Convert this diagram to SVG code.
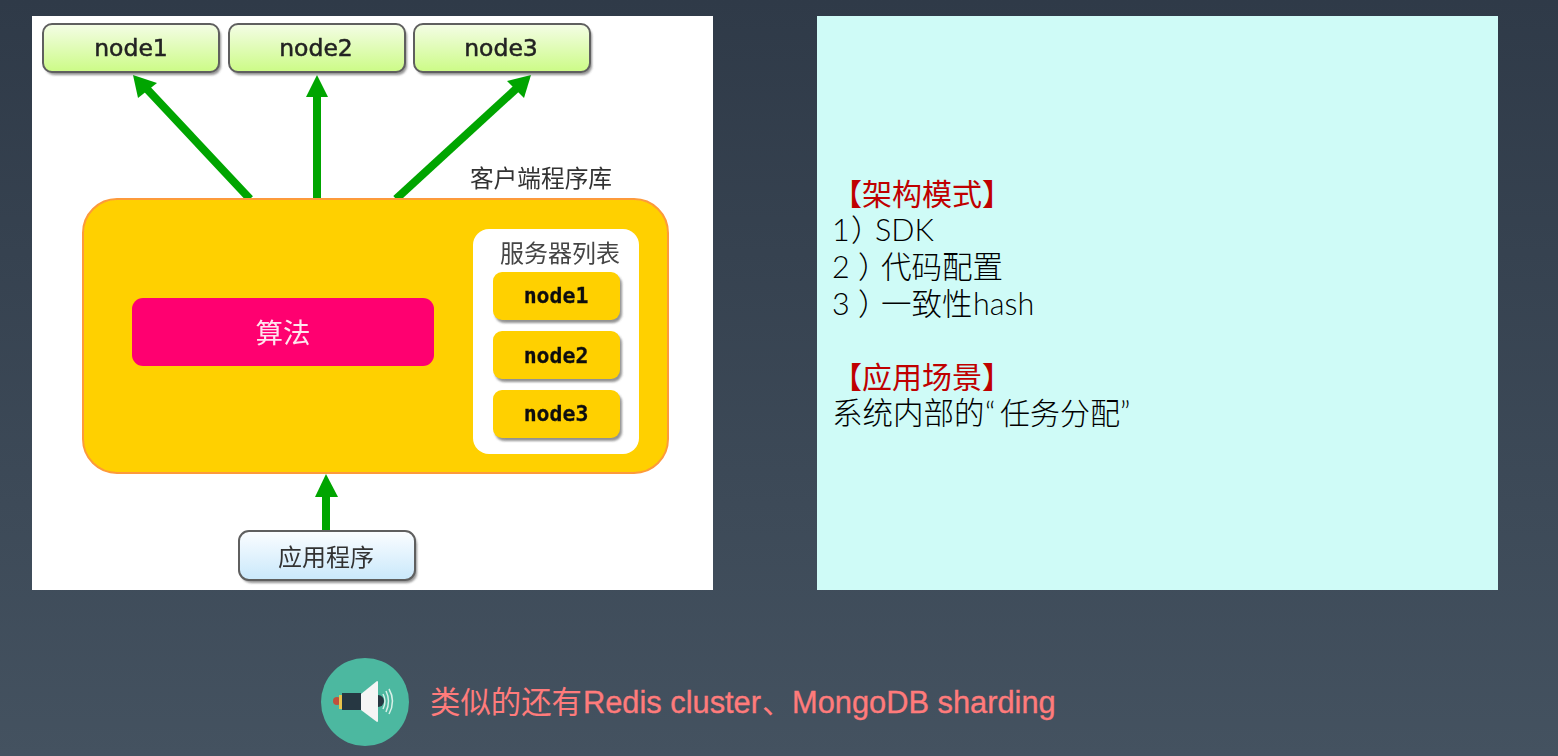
<svg xmlns="http://www.w3.org/2000/svg" width="1558" height="756" viewBox="0 0 1558 756">
<style>
.cjk{font-family:"Noto Sans CJK SC","Liberation Sans",sans-serif}
.lat{font-family:"DejaVu Sans",sans-serif;font-size:23.5px;fill:#222;stroke:#222;stroke-width:.5;text-anchor:middle}
.mono{font-family:"DejaVu Sans Mono",monospace;font-size:21.5px;font-weight:bold;fill:#111;stroke:#111;stroke-width:.3;text-anchor:middle}
.top{fill:url(#gG);stroke:#5f5f5f;stroke-width:2}
.sh{fill:#666;opacity:.7;filter:url(#shb)}
.mini{fill:#ffd000}
.gl{stroke:#00a500;stroke-width:8;fill:none}
.ga{fill:#00a500}
.side{font-size:30.5px;fill:#000;font-weight:300;font-family:Lato,"Noto Sans CJK SC",sans-serif}
.pal{font-feature-settings:"palt"}
.red{font-size:30px;fill:#c00000;font-family:Lato,"Noto Sans CJK SC",sans-serif}
.big{font-family:"Liberation Sans","Noto Sans CJK SC",sans-serif;font-size:30.8px;stroke:#ff7b7b;stroke-width:.35}
</style>
<defs>
<linearGradient id="bg" x1="0" y1="0" x2="0" y2="1"><stop offset="0" stop-color="#2f3a48"/><stop offset="1" stop-color="#445260"/></linearGradient>
<linearGradient id="gG" x1="0" y1="0" x2="0" y2="1"><stop offset="0" stop-color="#f4fde6"/><stop offset="1" stop-color="#ccfb86"/></linearGradient>
<linearGradient id="gB" x1="0" y1="0" x2="0" y2="1"><stop offset="0" stop-color="#fbfdff"/><stop offset="1" stop-color="#c9e8fb"/></linearGradient>
<filter id="soft" x="-5%" y="-5%" width="110%" height="110%"><feGaussianBlur stdDeviation="0.7"/></filter>
<filter id="shb" x="-5%" y="-10%" width="110%" height="120%"><feGaussianBlur stdDeviation="0.8"/></filter>
</defs>
<rect width="1558" height="756" fill="url(#bg)"/>
<rect id="left-panel" x="32" y="16" width="681" height="574" fill="#fff"/>
<rect id="right-panel" x="817" y="16" width="681" height="574" fill="#cffbf7"/>

<g id="connectors" filter="url(#soft)">
<path class="gl" d="M250 199L146 88"/><path class="ga" d="M133 75L157 83L138 98Z"/>
<path class="gl" d="M317 199V94"/><path class="ga" d="M317 75L328 97H306Z"/>
<path class="gl" d="M396 199L517 88"/><path class="ga" d="M531 75L524 98L507 81Z"/>
<path class="gl" d="M326 531V494"/><path class="ga" d="M326 474L338 497H315Z"/>
</g>

<g id="node-top1" filter="url(#soft)"><rect class="sh" x="45" y="27" width="176" height="48" rx="9"/><rect class="top" x="43" y="24" width="176" height="48" rx="9"/><text class="lat" x="131" y="56">node1</text></g>
<g id="node-top2" filter="url(#soft)"><rect class="sh" x="231" y="27" width="176" height="48" rx="9"/><rect class="top" x="229" y="24" width="176" height="48" rx="9"/><text class="lat" x="316" y="56">node2</text></g>
<g id="node-top3" filter="url(#soft)"><rect class="sh" x="416" y="27" width="176" height="48" rx="9"/><rect class="top" x="414" y="24" width="176" height="48" rx="9"/><text class="lat" x="501" y="56">node3</text></g>

<g id="client-lib" filter="url(#soft)">
<rect x="83" y="199" width="585" height="274" rx="34" fill="#ffd000" stroke="#fd9a3a" stroke-width="2"/>
<text class="cjk" x="541" y="187" font-size="23.7" fill="#333" text-anchor="middle">客户端程序库</text>
</g>
<g id="algo" filter="url(#soft)"><rect x="132" y="298" width="302" height="68" rx="11" fill="#ff0070"/><text class="cjk" x="283" y="343" font-size="27.5" fill="#ffe6ee" text-anchor="middle">算法</text></g>
<g id="server-list" filter="url(#soft)"><rect x="473" y="229" width="166" height="225" rx="16" fill="#fff"/><text class="cjk" x="560" y="262" font-size="24" fill="#444" text-anchor="middle">服务器列表</text></g>
<g id="mini1" filter="url(#soft)"><rect class="sh" x="495" y="275" width="127" height="48" rx="9"/><rect class="mini" x="493" y="272" width="127" height="48" rx="9"/><text class="mono" x="556" y="303">node1</text></g>
<g id="mini2" filter="url(#soft)"><rect class="sh" x="495" y="334" width="127" height="48" rx="9"/><rect class="mini" x="493" y="331" width="127" height="48" rx="9"/><text class="mono" x="556" y="363">node2</text></g>
<g id="mini3" filter="url(#soft)"><rect class="sh" x="495" y="393" width="127" height="48" rx="9"/><rect class="mini" x="493" y="390" width="127" height="48" rx="9"/><text class="mono" x="556" y="421">node3</text></g>

<g id="app" filter="url(#soft)"><rect class="sh" x="241" y="534" width="176" height="49" rx="10"/><rect x="239" y="531" width="176" height="49" rx="10" fill="url(#gB)" stroke="#5f5f5f" stroke-width="2"/><text class="cjk" x="326" y="566" font-size="24" fill="#333" text-anchor="middle">应用程序</text></g>

<g id="notes">
<text class="red" x="832" y="205">【架构模式】</text>
<text class="side" y="241"><tspan x="832">1</tspan><tspan x="852" class="pal">）</tspan><tspan x="875">SDK</tspan></text>
<text class="side" y="278"><tspan x="832">2</tspan><tspan x="859" class="pal">）</tspan><tspan x="881">代码配置</tspan></text>
<text class="side" y="315"><tspan x="832">3</tspan><tspan x="859" class="pal">）</tspan><tspan x="881">一致性</tspan><tspan x="973">hash</tspan></text>
<text class="red" x="832" y="388">【应用场景】</text>
<text class="side" y="424"><tspan x="832">系统内部的</tspan><tspan x="985">“</tspan><tspan x="1000" font-size="30">任务分配</tspan><tspan x="1120">”</tspan></text>
</g>

<g id="speaker">
<circle cx="365" cy="702" r="44" fill="#4cb8a0"/>
<circle cx="337" cy="701" r="4" fill="#c0503c"/>
<rect x="339" y="695" width="4" height="14" fill="#e8c34c"/>
<rect x="343" y="694" width="3" height="16" fill="#3a4a52"/>
<rect x="342" y="693" width="19" height="17" fill="#263742"/>
<circle cx="378" cy="701" r="6" fill="#263742"/>
<path d="M361 694L377 681Q378 681 378 682V721Q378 722 377 722L361 710Z" fill="#f5f5f5"/>
<g fill="none" stroke="#d8f0e8" stroke-width="1.5"><path d="M383 694Q387 701 383 709"/><path d="M386 691Q391 701 386 712"/><path d="M389 689Q396 701 389 714"/></g>
</g>
<text id="footer" y="713" fill="#ff7b7b" class="big"><tspan x="430" font-size="30.4" stroke-width="0">类似的还有</tspan><tspan x="583">Redis cluster</tspan><tspan x="762" font-size="30" stroke-width="0">、</tspan><tspan x="792">MongoDB sharding</tspan></text>
</svg>
